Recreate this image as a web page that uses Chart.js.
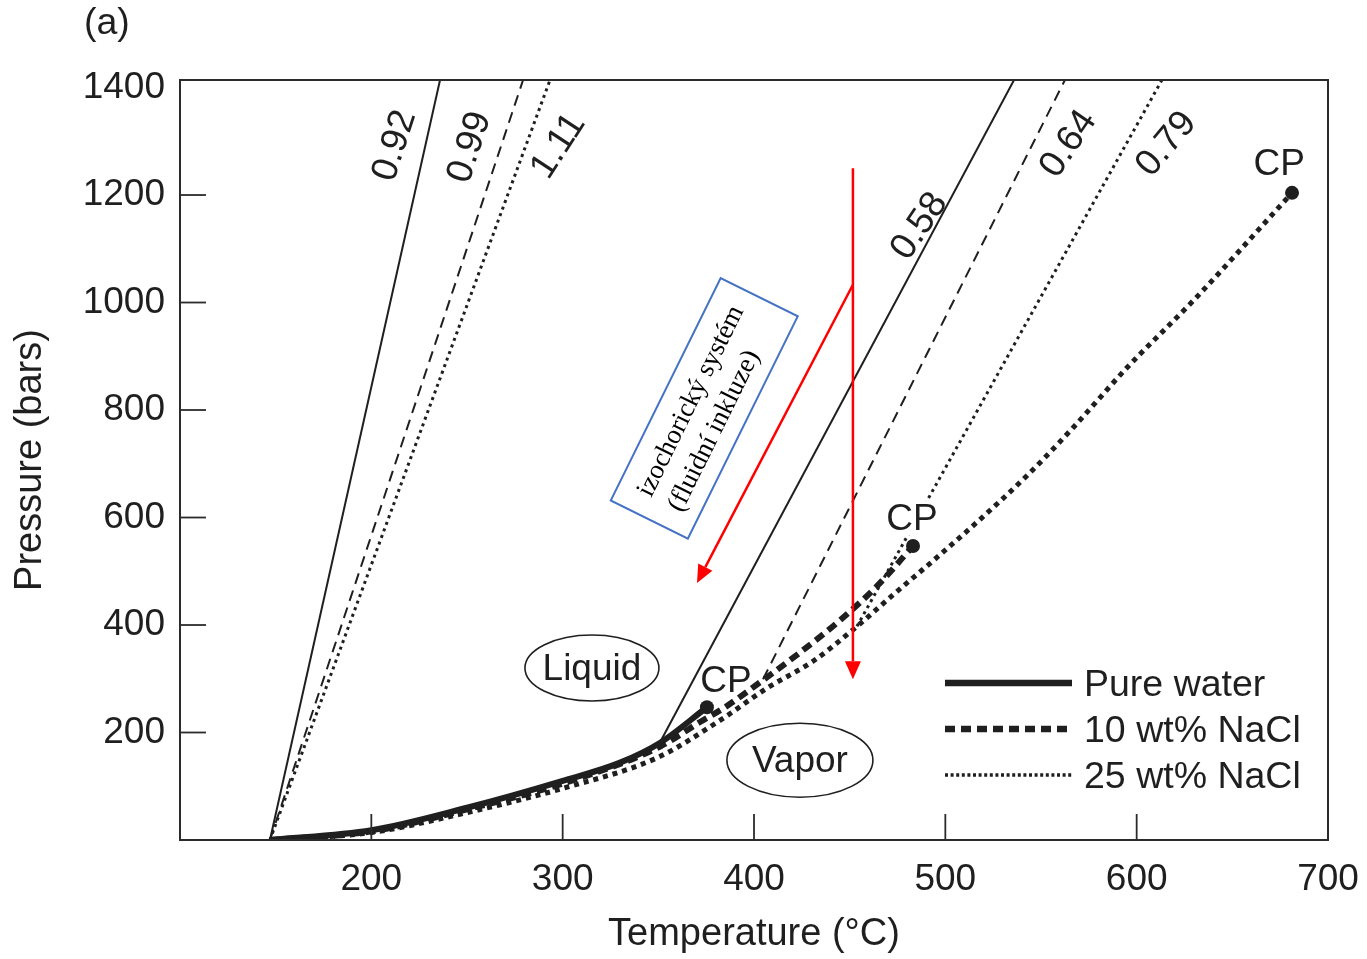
<!DOCTYPE html>
<html>
<head>
<meta charset="utf-8">
<title>Isochores H2O-NaCl</title>
<script src="https://cdn.jsdelivr.net/npm/chart.js@4.4.1/dist/chart.umd.min.js"></script>
<style>
  html, body { margin: 0; padding: 0; background: #fff; }
  #wrap { width: 1367px; height: 959px; }
</style>
</head>
<body>
<div id="wrap"><canvas id="phaseChart" width="1367" height="959"></canvas></div>
<script>
// liquid-vapor curves: temperature (°C) / pressure (bars)
const waterT = [147, 200, 250, 300, 330, 351, 375.4];
const waterP = [0, 18, 60, 110, 144, 181, 247];
const nacl10T = [147, 200, 250, 300, 351, 372, 384, 403, 423, 445, 465, 483.1];
const nacl10P = [0, 16, 57, 105, 174, 220, 245, 293, 346, 409, 475, 547];
const nacl25T = [147, 200, 250, 300, 350, 382, 407, 431, 452, 473, 497, 518, 543, 567, 595, 630, 681.2];
const nacl25P = [0, 14, 51, 96, 154, 222, 283, 333, 392, 457, 530, 596, 679, 768, 879, 1005, 1204];

// critical points
const cpT = [375.4, 483.1, 681.2];
const cpP = [247, 547, 1204];

// isochores (g/cm3), straight lines running out of the top of the plot
const iso092T = [147, 235.9],   iso092P = [0, 1414];
const iso099T = [147, 279.3],   iso099P = [0, 1414];
const iso111T = [147, 293.4],   iso111P = [0, 1414];
const iso058T = [350.9, 535.9], iso058P = [182, 1414];
const iso064T = [404.7, 562.5], iso064P = [299, 1414];
const iso079T = [453.8, 613.2], iso079P = [397.5, 1414];

// ticks
const xTickValues = [200, 300, 400, 500, 600, 700];
const yTickValues = [200, 400, 600, 800, 1000, 1200, 1400];

const legendNames = ['Pure water', '10 wt% NaCl', '25 wt% NaCl'];

const ink = '#1f1f1f';
const sans = '"Liberation Sans", Arial, Helvetica, sans-serif';

function series(ts, ps) {
  return ts.map((t, i) => ({ x: t, y: ps[i] }));
}

// text on the plot, anchored in data coordinates
const plotLabels = [
  { text: '0.92', t: 211.3, p: 1293, rot: -72 },
  { text: '0.99', t: 250.5, p: 1290, rot: -72 },
  { text: '1.11', t: 297.0, p: 1293, rot: -57 },
  { text: '0.58', t: 485.7, p: 1144, rot: -56 },
  { text: '0.64', t: 563.6, p: 1297, rot: -56 },
  { text: '0.79', t: 614.8, p: 1297, rot: -50 },
  { text: 'CP', t: 674.5, p: 1260, rot: 0 },
  { text: 'CP', t: 482.6, p: 599, rot: 0, mask: true },
  { text: 'CP', t: 385.4, p: 298, rot: 0 }
];

const regions = [
  { text: 'Liquid', t: 315.3, p: 320, rx: 67, ry: 33 },
  { text: 'Vapor', t: 424.0, p: 148.5, rx: 73, ry: 37 }
];

function drawArrow(ctx, x1, y1, x2, y2) {
  const ang = Math.atan2(y2 - y1, x2 - x1);
  const head = 18, half = 8;
  const c = Math.cos(ang), s = Math.sin(ang);
  ctx.beginPath();
  ctx.moveTo(x1, y1);
  ctx.lineTo(x2 - head * c, y2 - head * s);
  ctx.stroke();
  ctx.beginPath();
  ctx.moveTo(x2, y2);
  ctx.lineTo(x2 - head * c + half * s, y2 - head * s - half * c);
  ctx.lineTo(x2 - head * c - half * s, y2 - head * s + half * c);
  ctx.closePath();
  ctx.fill();
}

const overlay = {
  id: 'overlay',
  afterDatasetsDraw(chart) {
    const ctx = chart.ctx;
    const a = chart.chartArea;
    const xs = chart.scales.x, ys = chart.scales.y;
    ctx.save();

    // frame and inward ticks
    ctx.strokeStyle = '#2b2b2b';
    ctx.lineWidth = 2;
    ctx.strokeRect(a.left, a.top, a.right - a.left, a.bottom - a.top);
    ctx.lineWidth = 1.8;
    xTickValues.slice(0, -1).forEach(v => {
      const x = xs.getPixelForValue(v);
      ctx.beginPath(); ctx.moveTo(x, a.bottom); ctx.lineTo(x, a.bottom - 26); ctx.stroke();
    });
    yTickValues.slice(0, -1).forEach(v => {
      const y = ys.getPixelForValue(v);
      ctx.beginPath(); ctx.moveTo(a.left, y); ctx.lineTo(a.left + 26, y); ctx.stroke();
    });

    // labels
    ctx.font = '37px ' + sans;
    ctx.textAlign = 'center';
    ctx.textBaseline = 'middle';
    plotLabels.forEach(l => {
      const x = xs.getPixelForValue(l.t), y = ys.getPixelForValue(l.p);
      ctx.save();
      ctx.translate(x, y);
      ctx.rotate(l.rot * Math.PI / 180);
      if (l.mask) {
        ctx.fillStyle = '#fff';
        ctx.fillRect(-28, -17, 56, 34);
      }
      ctx.fillStyle = ink;
      ctx.fillText(l.text, 0, 2);
      ctx.restore();
    });

    // Liquid / Vapor
    ctx.strokeStyle = ink;
    ctx.lineWidth = 1.6;
    regions.forEach(r => {
      const x = xs.getPixelForValue(r.t), y = ys.getPixelForValue(r.p);
      ctx.beginPath();
      ctx.ellipse(x, y, r.rx, r.ry, 0, 0, Math.PI * 2);
      ctx.stroke();
      ctx.fillStyle = ink;
      ctx.fillText(r.text, x, y + 2);
    });

    // red arrows
    ctx.strokeStyle = '#ff0000';
    ctx.fillStyle = '#ff0000';
    ctx.lineWidth = 2.5;
    drawArrow(ctx, xs.getPixelForValue(451.7), ys.getPixelForValue(1250),
                   xs.getPixelForValue(451.7), ys.getPixelForValue(299));
    drawArrow(ctx, xs.getPixelForValue(451.7), ys.getPixelForValue(1033),
                   xs.getPixelForValue(370.2), ys.getPixelForValue(478));

    // blue note box
    ctx.save();
    ctx.translate(xs.getPixelForValue(374.0), ys.getPixelForValue(803));
    ctx.rotate(-63.7 * Math.PI / 180);
    ctx.fillStyle = '#fff';
    ctx.fillRect(-124, -43, 248, 86);
    ctx.strokeStyle = '#4472c4';
    ctx.lineWidth = 2;
    ctx.strokeRect(-124, -43, 248, 86);
    ctx.fillStyle = '#000';
    ctx.font = '27px "Liberation Serif", "Times New Roman", serif';
    ctx.textAlign = 'left';
    ctx.fillText('izochorický systém', -104, -15);
    ctx.fillText('(fluidní inkluze)', -104, 19);
    ctx.restore();

    // legend
    const lx0 = 945, lx1 = 1072, rows = [683, 729, 775];
    const styles = [
      { w: 6.5, dash: [] },
      { w: 6.5, dash: [10, 6] },
      { w: 3.5, dash: [3, 2.6] }
    ];
    ctx.strokeStyle = ink;
    rows.forEach((y, i) => {
      ctx.lineWidth = styles[i].w;
      ctx.setLineDash(styles[i].dash);
      ctx.beginPath(); ctx.moveTo(lx0, y); ctx.lineTo(lx1, y); ctx.stroke();
    });
    ctx.setLineDash([]);
    ctx.font = '37.5px ' + sans;
    ctx.fillStyle = ink;
    ctx.textAlign = 'left';
    legendNames.forEach((n, i) => ctx.fillText(n, 1084, rows[i] + 3));

    // panel letter
    ctx.fillText('(a)', 84, 24);
    ctx.restore();
  }
};

const thin = { borderColor: ink, borderWidth: 2, pointRadius: 0, showLine: true, fill: false };

new Chart(document.getElementById('phaseChart'), {
  type: 'scatter',
  data: {
    datasets: [
      { label: 'CP', data: series(cpT, cpP), pointRadius: 7, pointBackgroundColor: ink,
        pointBorderWidth: 0, showLine: false },
      { label: 'Pure water', data: series(waterT, waterP), borderColor: ink, borderWidth: 6,
        pointRadius: 0, showLine: true, cubicInterpolationMode: 'monotone' },
      { label: '10 wt% NaCl', data: series(nacl10T, nacl10P), borderColor: ink, borderWidth: 6,
        borderDash: [10, 6], pointRadius: 0, showLine: true, cubicInterpolationMode: 'monotone' },
      { label: '25 wt% NaCl', data: series(nacl25T, nacl25P), borderColor: ink, borderWidth: 5,
        borderDash: [5, 5], pointRadius: 0, showLine: true, cubicInterpolationMode: 'monotone' },
      { label: '0.92', data: series(iso092T, iso092P), ...thin },
      { label: '0.99', data: series(iso099T, iso099P), ...thin, borderDash: [11, 7] },
      { label: '1.11', data: series(iso111T, iso111P), ...thin, borderWidth: 3, borderDash: [3, 4] },
      { label: '0.58', data: series(iso058T, iso058P), ...thin },
      { label: '0.64', data: series(iso064T, iso064P), ...thin, borderDash: [11, 7] },
      { label: '0.79', data: series(iso079T, iso079P), ...thin, borderWidth: 3, borderDash: [3, 4] }
    ]
  },
  options: {
    responsive: false,
    animation: false,
    events: [],
    layout: { padding: { top: 80, right: 39, left: 0, bottom: 0 } },
    plugins: {
      legend: { display: false },
      tooltip: { enabled: false }
    },
    scales: {
      x: {
        type: 'linear', min: 100, max: 700,
        afterBuildTicks: s => { s.ticks = xTickValues.map(v => ({ value: v })); },
        afterFit: s => { s.height = 119; s.paddingLeft = 0; s.paddingRight = 0; },
        grid: { display: false, drawTicks: false },
        border: { display: false },
        ticks: {
          autoSkip: false, maxRotation: 0, padding: 18,
          color: ink, font: { family: sans, size: 37 },
          callback: v => String(v)
        },
        title: {
          display: true, text: 'Temperature (°C)', color: ink,
          font: { family: sans, size: 38 }, padding: { top: 0, bottom: 2 }
        }
      },
      y: {
        type: 'linear', min: 0, max: 1414,
        afterBuildTicks: s => { s.ticks = yTickValues.map(v => ({ value: v })); },
        afterFit: s => { s.width = 180; s.paddingTop = 0; s.paddingBottom = 0; },
        grid: { display: false, drawTicks: false },
        border: { display: false },
        ticks: {
          autoSkip: false, padding: 15,
          color: ink, font: { family: sans, size: 37 },
          callback: v => String(v)
        },
        title: {
          display: true, text: 'Pressure (bars)', color: ink,
          font: { family: sans, size: 38 }, padding: { top: 8, bottom: 0 }
        }
      }
    }
  },
  plugins: [overlay]
});
</script>
</body>
</html>
